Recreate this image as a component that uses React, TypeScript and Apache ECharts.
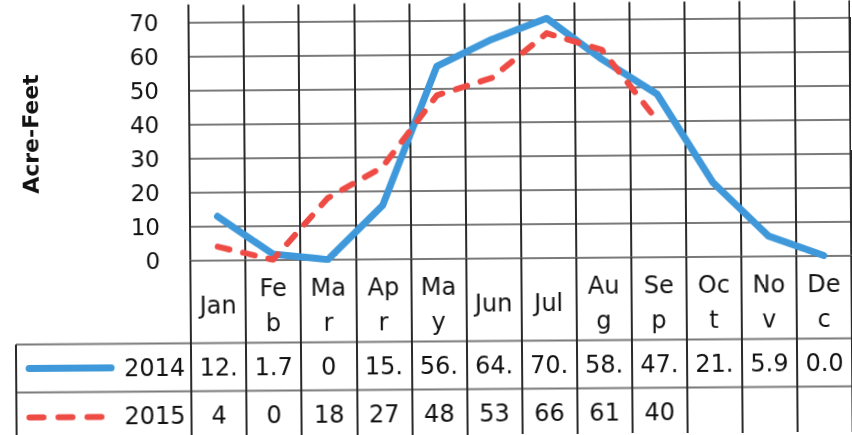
import React, { useEffect, useRef } from "react";
import * as echarts from "echarts";

const months = ["Jan", "Feb", "Mar", "Apr", "May", "Jun", "Jul", "Aug", "Sep", "Oct", "Nov", "Dec"];
const monthLabels = ["Jan", "Fe\nb", "Ma\nr", "Ap\nr", "Ma\ny", "Jun", "Jul", "Au\ng", "Se\np", "Oc\nt", "No\nv", "De\nc"];
const flow2014 = [12.9, 1.7, 0, 15.8, 56.5, 64.3, 70.4, 58.2, 47.8, 21.7, 5.9, 0.05];
const flow2015: (number | null)[] = [4, 0, 18, 27, 48, 53, 66, 61, 40, null, null, null];
const seriesNames = ["2014", "2015"];
const yMin = 0;
const yMax = 75;
const yInterval = 10;

const FONT = "DejaVu Sans";
const BLUE = "#3F98DA";
const RED = "#EE4B45";
const DARK = "#2a2a2a";
const GRAY = "#7a7a7a";
const TEXT = "#111111";

// Excel-like truncated cell display
const cell = (v: number | null) => (v == null ? "" : String(v).slice(0, 3));

export default function App() {
  const ref = useRef<HTMLDivElement>(null);
  useEffect(() => {
    if (!ref.current) return;
    const chart = echarts.init(ref.current, null, { renderer: "svg" });
    const gridTop = 3.5;
    const gridBottomY = 258.7;
    const H = 435;
    const row1 = 365.5;
    const row2 = 413.5;
    const sep1 = 341.5;
    const sep2 = 389.5;
    const TS = 24;
    const labelBase = {
      interval: 0,
      fontSize: TS,
      fontFamily: FONT,
      color: TEXT,
      verticalAlign: "middle" as const,
    };
    chart.setOption({
      animation: false,
      backgroundColor: "#ffffff",
      grid: { left: 190, right: 1, top: gridTop, bottom: H - gridBottomY },
      xAxis: [
        {
          type: "category",
          data: months,
          position: "bottom",
          boundaryGap: true,
          axisLine: { show: true, lineStyle: { color: GRAY, width: 2 } },
          axisTick: { show: true, interval: 0, length: H - gridBottomY + 2, lineStyle: { color: DARK, width: 2 } },
          axisLabel: { ...labelBase, lineHeight: 35, margin: 45.5, formatter: (_v: string, i: number) => monthLabels[i] },
          splitLine: { show: true, interval: 0, lineStyle: { color: DARK, width: 2 } },
        },
        {
          type: "category",
          data: months,
          position: "bottom",
          offset: 0,
          axisLine: { show: false },
          axisTick: { show: false },
          axisLabel: { ...labelBase, margin: row1 - gridBottomY, formatter: (_v: string, i: number) => cell(flow2014[i]) },
          splitLine: { show: false },
        },
        {
          type: "category",
          data: months,
          position: "bottom",
          offset: 0,
          axisLine: { show: false },
          axisTick: { show: false },
          axisLabel: { ...labelBase, margin: row2 - gridBottomY, formatter: (_v: string, i: number) => cell(flow2015[i]) },
          splitLine: { show: false },
        },
      ],
      yAxis: {
        type: "value",
        min: yMin,
        max: yMax,
        interval: yInterval,
        name: "Acre-Feet",
        nameLocation: "middle",
        nameRotate: 90,
        nameGap: 148,
        nameTextStyle: { fontSize: 22, fontWeight: "bold", fontFamily: FONT, color: TEXT },
        axisLine: { show: true, lineStyle: { color: DARK, width: 2 } },
        axisTick: { show: false },
        axisLabel: { fontSize: 23, fontFamily: FONT, color: TEXT, margin: 30, showMaxLabel: false },
        splitLine: { show: true, showMaxLine: false, lineStyle: { color: GRAY, width: 2 } },
      },
      series: [
        {
          name: seriesNames[0],
          type: "line",
          xAxisIndex: 0,
          data: flow2014,
          showSymbol: false,
          lineStyle: { color: BLUE, width: 7, join: "round", cap: "round" },
          z: 3,
        },
        {
          name: seriesNames[1],
          type: "line",
          xAxisIndex: 0,
          data: flow2015,
          showSymbol: false,
          connectNulls: false,
          lineStyle: { color: RED, width: 6, type: [12, 14], cap: "round", join: "round" },
          z: 4,
        },
      ],
      graphic: [
        { type: "line", shape: { x1: 15, y1: sep1, x2: 851, y2: sep1 }, style: { stroke: GRAY, lineWidth: 2 } },
        { type: "line", shape: { x1: 15, y1: sep2, x2: 851, y2: sep2 }, style: { stroke: GRAY, lineWidth: 2 } },
        { type: "line", shape: { x1: 15, y1: sep1, x2: 15, y2: H }, style: { stroke: DARK, lineWidth: 2 } },
        { type: "line", shape: { x1: 28, y1: row1, x2: 110, y2: row1 }, style: { stroke: BLUE, lineWidth: 7, lineCap: "round" } },
        {
          type: "line",
          shape: { x1: 28, y1: row2 + 1, x2: 100, y2: row2 + 1 },
          style: { stroke: RED, lineWidth: 6, lineCap: "round", lineDash: [14, 15] },
        },
        {
          type: "text",
          style: { text: seriesNames[0], x: 184, y: row1, align: "right", verticalAlign: "middle", textAlign: "right", textVerticalAlign: "middle", fontSize: TS, fontFamily: FONT, fill: TEXT },
        },
        {
          type: "text",
          style: { text: seriesNames[1], x: 184, y: row2, align: "right", verticalAlign: "middle", textAlign: "right", textVerticalAlign: "middle", fontSize: TS, fontFamily: FONT, fill: TEXT },
        },
      ],
    });
    return () => chart.dispose();
  }, []);
  return (
    <div
      ref={ref}
      style={{
        position: "fixed",
        left: 0,
        top: 0,
        width: 852,
        height: 435,
        transform: "rotate(-0.43deg)",
        transformOrigin: "50% 50%",
      }}
    />
  );
}
